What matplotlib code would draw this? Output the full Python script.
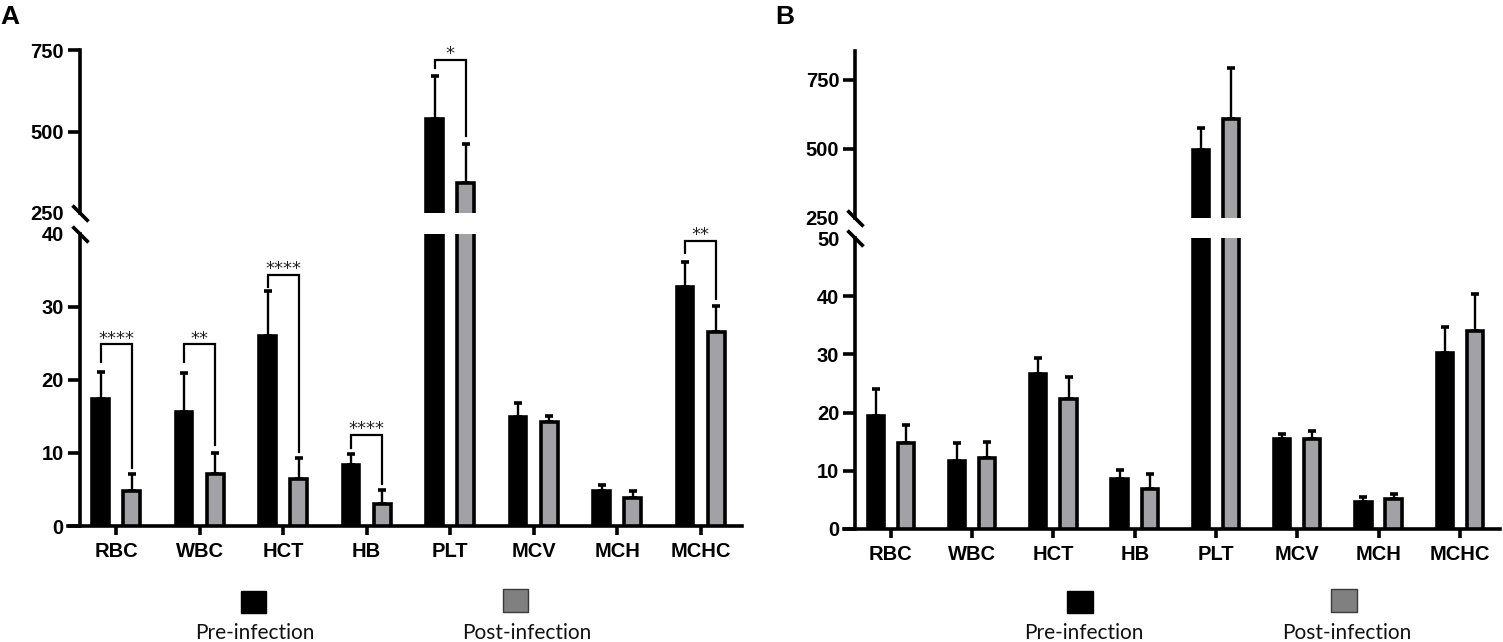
import matplotlib
matplotlib.use('Agg')
import matplotlib.pyplot as plt
import numpy as np
from matplotlib.patches import Rectangle
from matplotlib.transforms import blended_transform_factory

plt.rcParams['font.family'] = ['Liberation Sans', 'DejaVu Sans']

# datos
categorias = ['RBC', 'WBC', 'HCT', 'HB', 'PLT', 'MCV', 'MCH', 'MCHC']

pre_a = [17.4, 15.6, 26.0, 8.4, 539, 14.9, 4.8, 32.8]
pre_a_err = [3.7, 5.3, 6.2, 1.5, 132, 1.9, 0.8, 3.4]
post_a = [4.8, 7.1, 6.4, 3.0, 343, 14.2, 3.9, 26.6]
post_a_err = [2.3, 2.9, 2.9, 1.9, 120, 0.9, 0.9, 3.5]

pre_b = [19.5, 11.7, 26.7, 8.6, 496, 15.5, 4.6, 30.2]
pre_b_err = [4.6, 3.0, 2.7, 1.5, 79, 0.9, 0.9, 4.5]
post_b = [14.7, 12.2, 22.3, 6.8, 609, 15.4, 5.1, 34.0]
post_b_err = [3.1, 2.8, 3.9, 2.6, 183, 1.5, 0.85, 6.3]

# corchetes de significancia: (categoria, altura, fin izq, fin der, texto)
sig_a = [(0, 24.9, 22.5, 7.9, '****'),
         (1, 24.9, 22.4, 11.1, '**'),
         (2, 34.4, 32.7, 10.1, '****'),
         (3, 12.5, 10.7, 5.7, '****'),
         (4, 720, 696, 485, '*'),
         (7, 39.1, 37.4, 31.1, '**')]
sig_b = []

ticks_a_lo = [0, 10, 20, 30, 40]
ticks_a_hi = [250, 500, 750]
ticks_b_lo = [0, 10, 20, 30, 40, 50]
ticks_b_hi = [250, 500, 750]

W, H = 1503, 642
GRIS = '#a2a2a6'
LW = 2.6
OFF = 0.186
ANCHO = 0.2
XLIM = (-0.577, 7.495)
EJE_X = -0.437


def caja(x0, y0, x1, y1):
    return [x0 / W, 1 - y1 / H, (x1 - x0) / W, (y1 - y0) / H]


def panel(fig, caja_lo, caja_hi, pre, pre_err, post, post_err,
          lim_lo, lim_hi, t_lo, t_hi, sig):
    ax_lo = fig.add_axes(caja(*caja_lo))
    ax_hi = fig.add_axes(caja(*caja_hi))
    x = np.arange(len(categorias))
    for ax in (ax_lo, ax_hi):
        ax.bar(x - OFF, pre, ANCHO, color='black', edgecolor='black',
               linewidth=2.6, zorder=3)
        ax.bar(x + OFF, post, ANCHO, color=GRIS, edgecolor='black',
               linewidth=2.6, zorder=3)
        ax.errorbar(x - OFF, pre, yerr=[np.zeros(len(x)), pre_err], fmt='none',
                    ecolor='black', elinewidth=1.7, capsize=3, capthick=2.6, zorder=2)
        ax.errorbar(x + OFF, post, yerr=[np.zeros(len(x)), post_err], fmt='none',
                    ecolor='black', elinewidth=1.7, capsize=3, capthick=2.6, zorder=2)
        ax.set_xlim(*XLIM)
        ax.spines['top'].set_visible(False)
        ax.spines['right'].set_visible(False)
        ax.spines['left'].set_position(('data', EJE_X))
        ax.spines['left'].set_linewidth(LW)
        ax.spines['bottom'].set_linewidth(LW)
        ax.tick_params(axis='y', direction='out', length=8.6, width=LW, pad=3,
                       labelsize=14.5)
        ax.patch.set_visible(False)

    ax_lo.set_ylim(*lim_lo)
    ax_hi.set_ylim(*lim_hi)
    ax_lo.set_yticks(t_lo)
    ax_hi.set_yticks(t_hi)
    for lab in ax_lo.get_yticklabels() + ax_hi.get_yticklabels():
        lab.set_fontweight('bold')
    ax_lo.yaxis.get_major_ticks()[-1].tick1line.set_visible(False)
    ax_hi.yaxis.get_major_ticks()[0].tick1line.set_visible(False)

    ax_lo.set_xticks(x)
    ax_lo.set_xticklabels(categorias, fontsize=14.5, fontweight='bold')
    ax_lo.tick_params(axis='x', direction='out', length=6.5, width=LW, pad=5)
    ax_hi.spines['bottom'].set_visible(False)
    ax_hi.set_xticks([])

    # marcas de corte del eje
    for ax, yy in ((ax_lo, 1.0), (ax_hi, 0.0)):
        tr = blended_transform_factory(ax.transData, ax.transAxes)
        ax.plot([EJE_X], [yy], marker=[(-1, 1), (1, -1)], markersize=11.5,
                mew=LW, mec='black', mfc='none', transform=tr, clip_on=False,
                zorder=5)

    for i, top, l_end, r_end, txt in sig:
        ax = ax_hi if top > lim_lo[1] else ax_lo
        xl, xr = i - OFF, i + OFF
        ax.plot([xl, xl, xr, xr], [l_end, top, top, r_end], color='black',
                lw=1.6, zorder=4, solid_joinstyle='miter')
        ax.annotate(txt, (i, top), xytext=(0, -2.5), textcoords='offset points',
                    ha='center', va='bottom', fontsize=13, color='#222222',
                    family='DejaVu Sans')
    return ax_lo, ax_hi


fig = plt.figure(figsize=(W / 100, H / 100), dpi=100)

panel(fig, (68, 234, 742, 526), (68, 50, 742, 213),
      pre_a, pre_a_err, post_a, post_a_err, (0, 40), (250, 750),
      ticks_a_lo, ticks_a_hi, sig_a)
panel(fig, (844, 238, 1500, 529), (844, 51, 1500, 218),
      pre_b, pre_b_err, post_b, post_b_err, (0, 50), (250, 855),
      ticks_b_lo, ticks_b_hi, sig_b)

fig.text(0.0, 1 - 5 / H, 'A', fontsize=19, fontweight='bold', va='top', ha='left')
fig.text(775 / W, 1 - 5 / H, 'B', fontsize=19, fontweight='bold', va='top', ha='left')

# leyendas
leyenda = [(241, 591, 266, 613, 'black', 'black', 254.5, 'Pre-infection'),
           (503, 589, 528, 612, '#808080', '#3a3a3a', 526.5, 'Post-infection'),
           (1067, 591, 1093, 613, 'black', 'black', 1084, 'Pre-infection'),
           (1331, 589, 1357, 612, '#808080', '#3a3a3a', 1347, 'Post-infection')]
for x0, y0, x1, y1, fc, ec, xt, txt in leyenda:
    fig.patches.append(Rectangle((x0 / W, 1 - y1 / H), (x1 - x0) / W, (y1 - y0) / H,
                                 facecolor=fc, edgecolor=ec, linewidth=1,
                                 transform=fig.transFigure, figure=fig))
    fig.text(xt / W, 1 - 623 / H, txt, fontsize=15, family=['Lato', 'DejaVu Sans'],
             ha='center', va='top', color='#111111')

fig.savefig('out.png', dpi=100)
